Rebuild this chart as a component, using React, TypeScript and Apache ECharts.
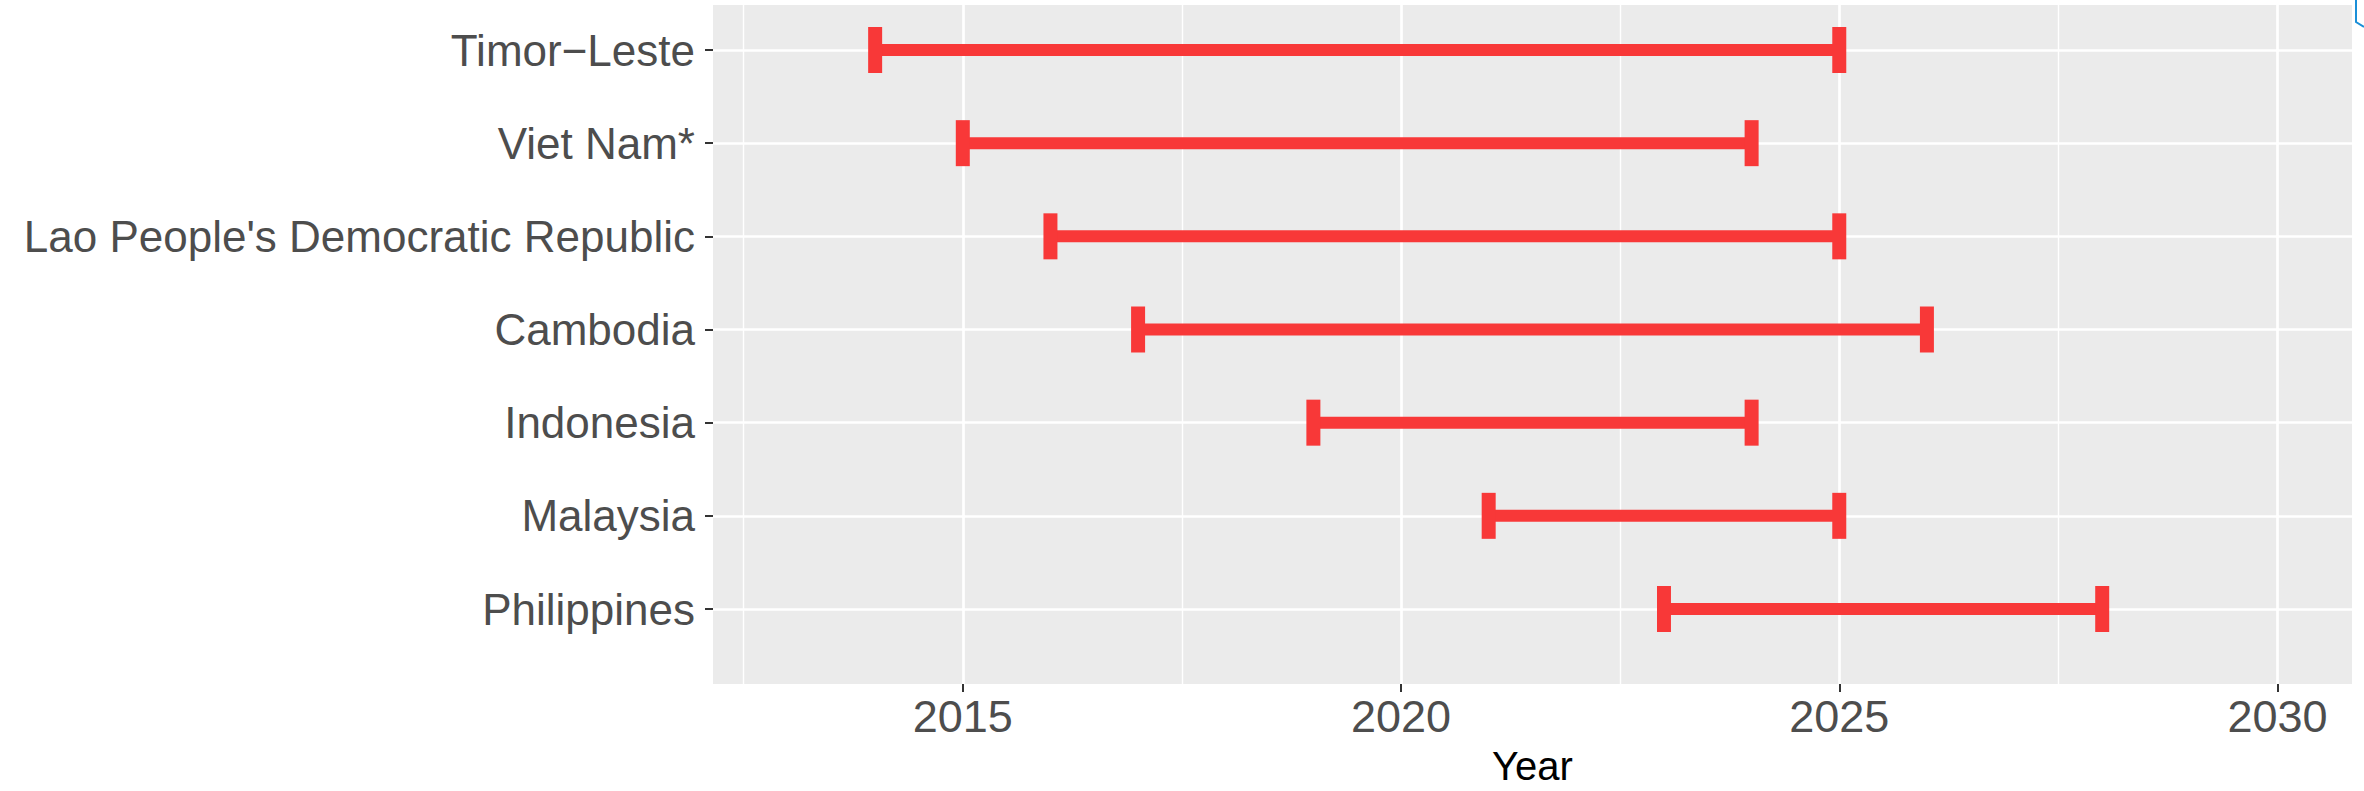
import React, { useEffect, useRef } from "react";
import * as echarts from "echarts";

const countries = [
  "Timor−Leste",
  "Viet Nam*",
  "Lao People's Democratic Republic",
  "Cambodia",
  "Indonesia",
  "Malaysia",
  "Philippines",
];
const startYears = [2014, 2015, 2016, 2017, 2019, 2021, 2023];
const endYears = [2025, 2024, 2025, 2026, 2024, 2025, 2028];
const xTicks = [2015, 2020, 2025, 2030];

const FONT = "'Liberation Sans', Arial, Helvetica, sans-serif";
const RED = "#F83838";

export default function App() {
  const ref = useRef<HTMLDivElement>(null);
  useEffect(() => {
    if (!ref.current) return;
    const chart = echarts.init(ref.current, undefined, { renderer: "svg" });
    const data = countries.map((c, i) => [i, startYears[i], endYears[i]]);
    const xMin = 2012.15;
    const xMax = 2030.85;
    chart.setOption({
      animation: false,
      backgroundColor: "#FFFFFF",
      grid: [
        { left: 713, right: 12, top: 5, bottom: 106, show: true, backgroundColor: "#EBEBEB", borderWidth: 0 },
        { left: 713, right: 12, top: 50, bottom: 182, show: false },
      ],
      xAxis: [
        {
          gridIndex: 0,
          type: "value",
          min: xMin,
          max: xMax,
          splitNumber: 4,
          minInterval: 5,
          maxInterval: 5,
          axisLine: { show: false },
          axisTick: { show: true, length: 8, customValues: xTicks, lineStyle: { color: "#333333", width: 2 } },
          axisLabel: {
            customValues: xTicks,
            formatter: (v: number) => String(v),
            fontSize: 45,
            fontFamily: FONT,
            color: "#4D4D4D",
            margin: 10,
          },
          splitLine: { show: true, lineStyle: { color: "#FFFFFF", width: 2.7 } },
          minorTick: { show: false, splitNumber: 2 },
          minorSplitLine: { show: true, lineStyle: { color: "#FFFFFF", width: 1.4 } },
          name: "Year",
          nameLocation: "middle",
          nameGap: 62,
          nameTextStyle: { fontSize: 40, fontFamily: FONT, color: "#000000" },
        },
        { gridIndex: 1, type: "value", min: xMin, max: xMax, show: false },
      ],
      yAxis: [
        { gridIndex: 0, type: "value", min: 0, max: 1, show: false },
        {
          gridIndex: 1,
          type: "category",
          data: countries,
          inverse: true,
          boundaryGap: false,
          axisLine: { show: false },
          axisTick: { show: true, length: 8, lineStyle: { color: "#333333", width: 2 } },
          axisLabel: { fontSize: 44, fontFamily: FONT, color: "#4D4D4D", margin: 18 },
          splitLine: { show: true, lineStyle: { color: "#FFFFFF", width: 2.7 } },
        },
      ],
      series: [
        {
          type: "custom",
          xAxisIndex: 1,
          yAxisIndex: 1,
          encode: { x: [1, 2], y: 0 },
          data,
          renderItem: (params: any, api: any) => {
            const idx = api.value(0);
            const p1 = api.coord([api.value(1), idx]);
            const p2 = api.coord([api.value(2), idx]);
            const half = 23;
            return {
              type: "group",
              children: [
                {
                  type: "line",
                  shape: { x1: p1[0], y1: p1[1], x2: p2[0], y2: p2[1] },
                  style: { stroke: RED, lineWidth: 12 },
                },
                {
                  type: "line",
                  shape: { x1: p1[0], y1: p1[1] - half, x2: p1[0], y2: p1[1] + half },
                  style: { stroke: RED, lineWidth: 14 },
                },
                {
                  type: "line",
                  shape: { x1: p2[0], y1: p2[1] - half, x2: p2[0], y2: p2[1] + half },
                  style: { stroke: RED, lineWidth: 14 },
                },
              ],
            };
          },
        },
      ],
      graphic: [
        {
          type: "polyline",
          shape: { points: [[2356, 0], [2356, 22], [2364, 27]] },
          style: { stroke: "#1A8FD8", lineWidth: 2, fill: "none" },
          silent: true,
        },
      ],
    });
    return () => chart.dispose();
  }, []);
  return (
    <div
      ref={ref}
      style={{ position: "fixed", left: 0, top: 0, width: 2364, height: 791 }}
    />
  );
}
